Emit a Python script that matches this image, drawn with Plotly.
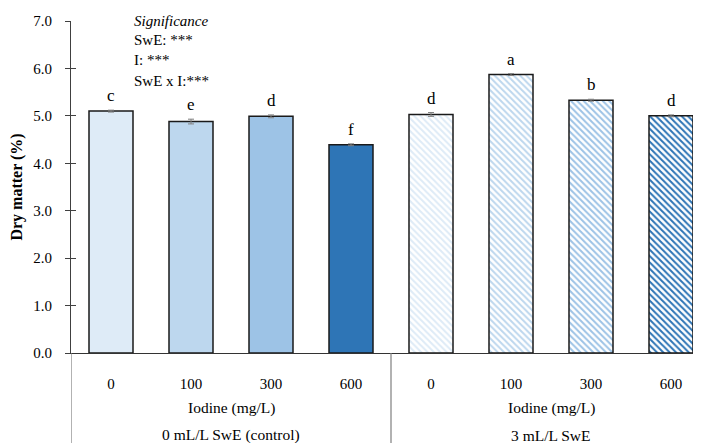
import plotly.graph_objects as go

# ---- data ----
iodine_labels = ["0", "100", "300", "600", "0", "100", "300", "600"]
group_names = ["0 mL/L SwE (control)", "3 mL/L SwE"]
dry_matter = [5.10, 4.88, 4.99, 4.39, 5.03, 5.87, 5.33, 5.00]
errors = [0.02, 0.05, 0.03, 0.02, 0.04, 0.02, 0.02, 0.02]
letters = ["c", "e", "d", "f", "d", "a", "b", "d"]
significance = ["<i>Significance</i>", "SwE: ***", "I: ***", "SwE x I:***"]

# ---- styling ----
colors = ["#DEEBF7", "#BDD7EE", "#9DC3E6", "#2E75B6"] * 2
shapes_pat = [""] * 4 + ["\\"] * 4
FONT = "Liberation Serif"

x = list(range(len(dry_matter)))

fig = go.Figure()
fig.add_trace(go.Bar(
    x=x, y=dry_matter, width=0.55,
    marker=dict(
        color=colors,
        line=dict(color="#1a1a1a", width=1.5),
        pattern=dict(shape=shapes_pat, fillmode="replace", bgcolor="white",
                     size=4.5, solidity=0.45),
    ),
    error_y=dict(type="data", array=errors, color="#7f7f7f", thickness=1, width=3),
    showlegend=False,
))

# invisible trace for second y axis (crossing ticks)
fig.add_trace(go.Scatter(x=[0], y=[0], yaxis="y2", mode="markers",
                         marker=dict(opacity=0), showlegend=False, hoverinfo="skip"))

annotations = []
for xi, v, e, t in zip(x, dry_matter, errors, letters):
    annotations.append(dict(x=xi, y=v + e, xref="x", yref="y", text=t, showarrow=False,
                            yanchor="bottom", yshift=3, font=dict(family=FONT, size=17, color="black")))

sig_y = [21, 40, 60, 81]
for txt, py in zip(significance, sig_y):
    annotations.append(dict(x=(132 - 71) / 630, y=(353 - py) / 332, xref="paper", yref="paper",
                            text=txt, showarrow=False, xanchor="left", yanchor="middle",
                            font=dict(family=FONT, size=15, color="black")))

n_per = 4
for gi, g in enumerate(group_names):
    cx = gi * n_per + (n_per - 1) / 2
    annotations.append(dict(x=cx, y=(353 - 408) / 332, xref="x", yref="paper", text="Iodine (mg/L)",
                            showarrow=False, yanchor="middle", font=dict(family=FONT, size=15.5, color="black")))
    annotations.append(dict(x=cx, y=(353 - 435) / 332, xref="x", yref="paper", text=g,
                            showarrow=False, yanchor="middle", font=dict(family=FONT, size=15.5, color="black")))

shapes = []
for sx in [-0.5, n_per - 0.5]:
    shapes.append(dict(type="line", xref="x", yref="paper", x0=sx, x1=sx, y0=0, y1=-0.3,
                       line=dict(color="#7f7f7f", width=1.2)))

# page body has an 8px default margin, so the figure is offset by 8px
fig.update_layout(
    width=693, height=435,
    margin=dict(l=63, r=0, t=13, b=90, autoexpand=False),
    plot_bgcolor="white", paper_bgcolor="white",
    font=dict(family=FONT, size=15, color="black"),
    bargap=0.3,
    xaxis=dict(range=[-0.5, 7.375], tickvals=x, ticktext=iodine_labels, ticks="",
               showline=True, linecolor="#333333", linewidth=1.2, showgrid=False,
               zeroline=False, ticklabelstandoff=17, automargin=False,
               tickfont=dict(family=FONT, size=15)),
    yaxis=dict(range=[0, 7], dtick=1, tickformat=".1f", ticks="outside", ticklen=5,
               tickcolor="#404040", showline=True, linecolor="#404040", linewidth=1.2,
               showgrid=False, zeroline=False, ticklabelstandoff=10, automargin=False,
               tickfont=dict(family=FONT, size=15),
               title=dict(text="<b>Dry matter (%)</b>", font=dict(family=FONT, size=16), standoff=10)),
    yaxis2=dict(range=[0, 7], dtick=1, overlaying="y", side="left", ticks="inside", ticklen=5,
                tickcolor="#404040", showticklabels=False, showline=False, showgrid=False,
                zeroline=False, automargin=False),
    annotations=annotations,
    shapes=shapes,
)

fig.write_html("out.html")
